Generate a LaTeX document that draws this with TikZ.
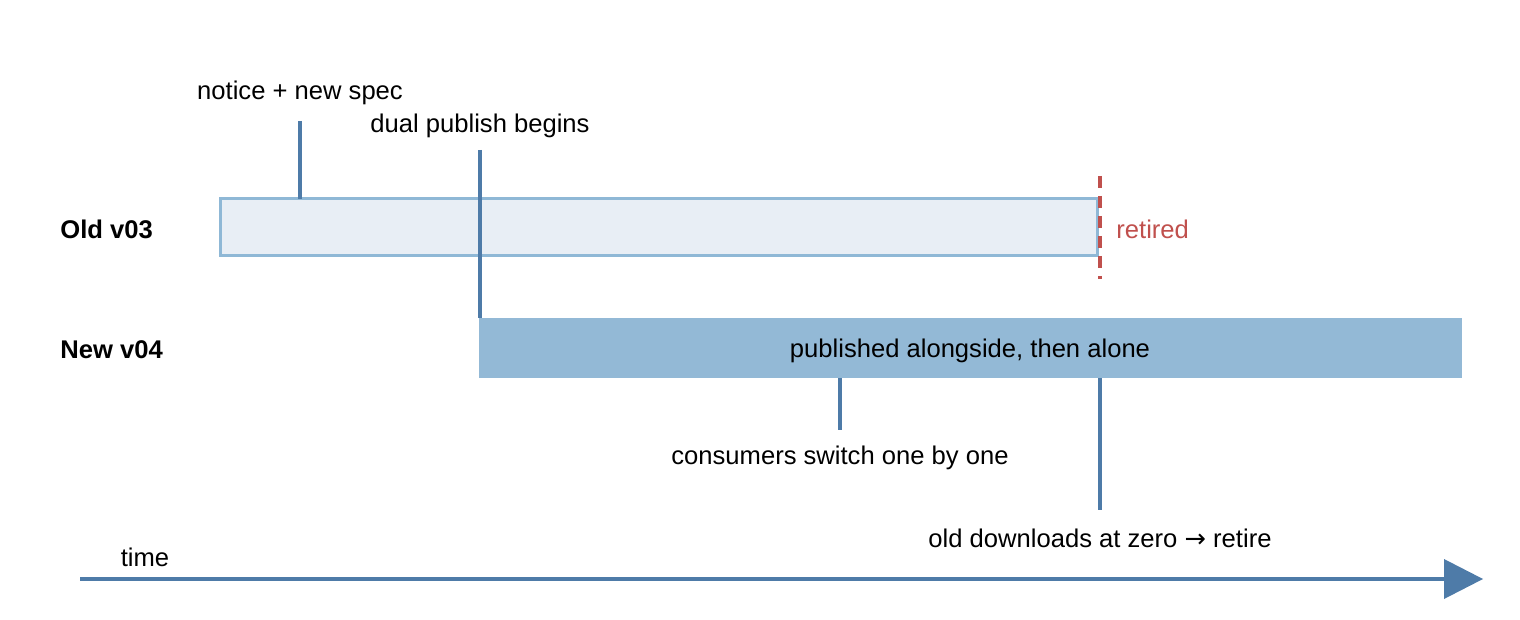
\documentclass[tikz,border=0pt]{standalone}
\usepackage{fontspec}
\setmainfont{Liberation Sans}
\newfontfamily\arrowfont{DejaVu Sans}
\definecolor{tickblue}{HTML}{4E7BA8}
\definecolor{barblue}{HTML}{93B9D6}
\definecolor{oldfill}{HTML}{E8EEF5}
\definecolor{oldedge}{HTML}{8FB8D6}
\definecolor{retired}{HTML}{C0504D}
\tikzset{
  lbl/.style={font=\fontsize{12.8}{15}\selectfont, inner sep=0pt},
  rowlbl/.style={font=\fontsize{12.8}{15}\selectfont\bfseries, anchor=west, inner sep=0pt},
  tick/.style={tickblue, line width=2pt}
}
\begin{document}
\begin{tikzpicture}[x=0.5pt, y=-0.5pt]
\useasboundingbox (0,0) rectangle (1520,620);
% version bars
\draw [fill=oldfill, draw=oldedge, line width=1.5pt] (220,199) rectangle (1097,256);
\fill [barblue] (479,318) rectangle (1462,378);
\node [rowlbl] (old) at (60,229) {Old v03};
\node [rowlbl] (new) at (60,350) {New v04};
\node [lbl] (pub) at (970,351) {published alongside, then alone};
% retirement of the old bar
\draw [retired, line width=2pt, dash pattern=on 6pt off 4pt] (1100,176) -- (1100,279);
\node [lbl, anchor=west, text=retired] (ret) at (1116,229) {retired};
% events
\node [lbl] (notice) at (300,93) {notice + new spec};
\draw [tick] (300,121) -- (300,199);
\node [lbl] (dual) at (480,126) {dual publish begins};
\draw [tick] (480,150) -- (480,318);
\node [lbl] (switch) at (840,458) {consumers switch one by one};
\draw [tick] (840,378) -- (840,430);
\node [lbl] (zero) at (1100,538) {old downloads at zero {\arrowfont →} retire};
\draw [tick] (1100,378) -- (1100,510);
% time axis
\node [lbl] (time) at (145,557) {time};
\draw [tickblue, line width=2pt] (80,579) -- (1446,579);
\fill [tickblue] (1444,559) -- (1483,579) -- (1444,599) -- cycle;
\end{tikzpicture}
\end{document}
